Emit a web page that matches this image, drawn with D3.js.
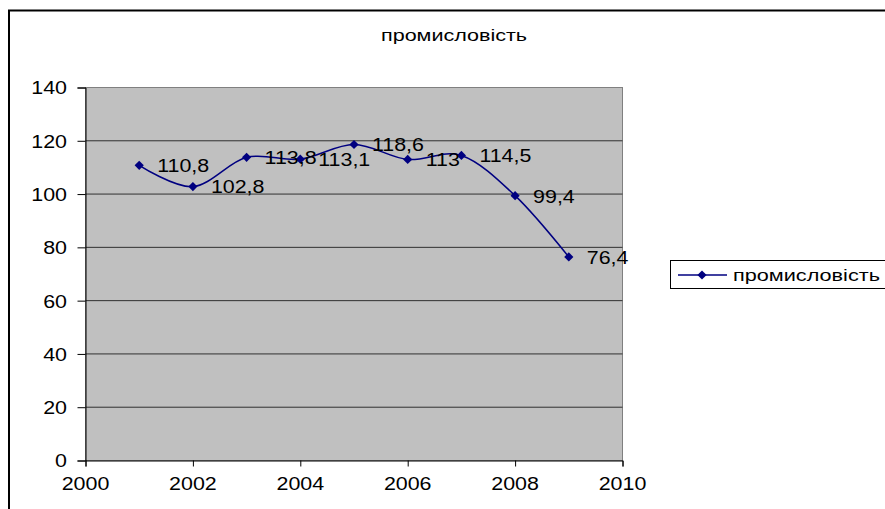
<!DOCTYPE html>
<html>
<head>
<meta charset="utf-8">
<script src="https://cdn.jsdelivr.net/npm/d3@7"></script>
<style>
  html, body { margin: 0; padding: 0; background: #fff; }
  svg { display: block; font-family: "Liberation Sans", Arial, sans-serif; }
</style>
</head>
<body>
<svg id="chart" width="885" height="509"></svg>
<script>
// Industrial production index by year
const years = [2001, 2002, 2003, 2004, 2005, 2006, 2007, 2008, 2009];
const values = [110.8, 102.8, 113.8, 113.1, 118.6, 113, 114.5, 99.4, 76.4];
const valueLabels = ["110,8", "102,8", "113,8", "113,1", "118,6", "113", "114,5", "99,4", "76,4"];
const xTicks = [2000, 2002, 2004, 2006, 2008, 2010];
const yTicks = [0, 20, 40, 60, 80, 100, 120, 140];
const seriesName = "промисловість";
const titleText = "промисловість";

const svg = d3.select("#chart");
const stretch = 1.19;           // wide-set glyphs used by the chart text
const navy = "#000080";

// outer chart frame
svg.append("rect")
  .attr("x", 9).attr("y", 10.5)
  .attr("width", 900).attr("height", 520)
  .attr("fill", "none").attr("stroke", "#000").attr("stroke-width", 2);

const x = d3.scaleLinear().domain([2000, 2010]).range([85.5, 622.5]);
const y = d3.scaleLinear().domain([0, 140]).range([460.5, 87.5]);

// plot area
svg.append("rect")
  .attr("x", x(2000)).attr("y", y(140))
  .attr("width", x(2010) - x(2000)).attr("height", y(0) - y(140))
  .attr("fill", "#c0c0c0").attr("stroke", "#808080").attr("stroke-width", 1);

// horizontal gridlines
svg.append("g").selectAll("line")
  .data(yTicks.filter(d => d > 0 && d < 140))
  .join("line")
  .attr("x1", x(2000)).attr("x2", x(2010))
  .attr("y1", d => y(d)).attr("y2", d => y(d))
  .attr("stroke", "#303030").attr("stroke-width", 1);

// stretched text helper
function stretchedText(g, tx, ty, str, size, anchor) {
  const t = g.append("g").attr("transform", `translate(${tx},${ty}) scale(${stretch},1)`)
    .append("text")
    .attr("font-size", size)
    .attr("text-anchor", anchor)
    .attr("dominant-baseline", "central")
    .attr("fill", "#000")
    .text(str);
  return t;
}

// y axis
const yAxis = svg.append("g").attr("transform", `translate(${x(2000)},0)`)
  .call(d3.axisLeft(y).tickValues(yTicks).tickSize(8).tickFormat(""));
yAxis.select(".domain").attr("stroke", "#000");
yAxis.selectAll(".tick line").attr("stroke", "#000");
yTicks.forEach(v => stretchedText(svg, 67, y(v) + 0.5, String(v), 18, "end"));

// x axis
const xAxis = svg.append("g").attr("transform", `translate(0,${y(0)})`)
  .call(d3.axisBottom(x).tickValues(xTicks).tickSize(6).tickFormat(""));
xAxis.select(".domain").attr("stroke", "#000");
xAxis.selectAll(".tick line").attr("stroke", "#000");
xTicks.forEach(v => stretchedText(svg, x(v), 484, String(v), 18, "middle"));

// series line (smoothed)
const pts = years.map((yr, i) => [yr, values[i]]);
const line = d3.line()
  .x(d => x(d[0])).y(d => y(d[1]))
  .curve(d3.curveCardinal.tension(0));
svg.append("path")
  .attr("d", line(pts))
  .attr("fill", "none").attr("stroke", navy).attr("stroke-width", 1.5);

// diamond markers
const diamond = "M0,-4.6L4.6,0L0,4.6L-4.6,0Z";
svg.append("g").selectAll("path")
  .data(pts)
  .join("path")
  .attr("d", diamond)
  .attr("transform", d => `translate(${x(d[0])},${y(d[1])})`)
  .attr("fill", navy);

// data labels
pts.forEach((d, i) => stretchedText(svg, x(d[0]) + 18, y(d[1]) + 0.5, valueLabels[i], 18, "start"));

// title
svg.append("text")
  .attr("x", 454).attr("y", 41)
  .attr("text-anchor", "middle")
  .attr("font-size", 16)
  .attr("textLength", 146).attr("lengthAdjust", "spacingAndGlyphs")
  .text(titleText);

// legend
const lg = svg.append("g");
lg.append("rect")
  .attr("x", 670.5).attr("y", 260.5).attr("width", 230).attr("height", 28)
  .attr("fill", "#fff").attr("stroke", "#000").attr("stroke-width", 1);
lg.append("line")
  .attr("x1", 678).attr("x2", 727).attr("y1", 275).attr("y2", 275)
  .attr("stroke", navy).attr("stroke-width", 1.5);
lg.append("path").attr("d", diamond).attr("transform", "translate(702,275)").attr("fill", navy);
lg.append("text")
  .attr("x", 733).attr("y", 281)
  .attr("font-size", 17)
  .attr("textLength", 147).attr("lengthAdjust", "spacingAndGlyphs")
  .text(seriesName);
</script>
</body>
</html>
